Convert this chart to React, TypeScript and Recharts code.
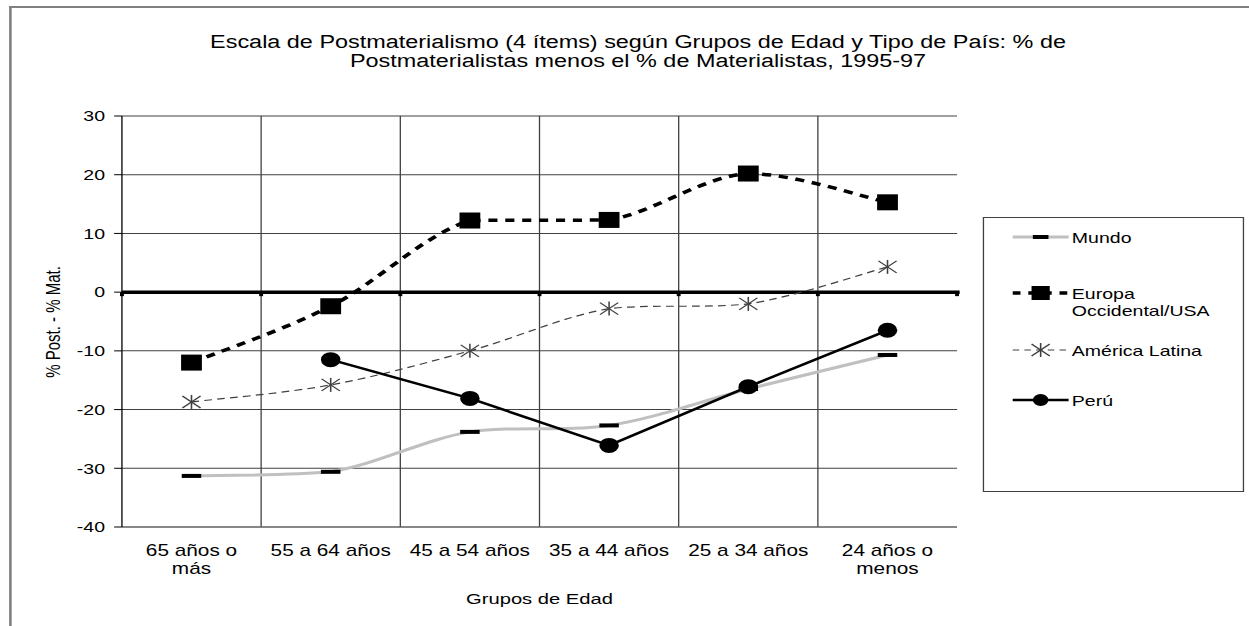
import React from "react";
import { LineChart, Line, XAxis, YAxis, CartesianGrid, ReferenceLine } from "recharts";

const categories = ["65 años o\nmás", "55 a 64 años", "45 a 54 años", "35 a 44 años", "25 a 34 años", "24 años o\nmenos"];
const mundo = [-31.3, -30.6, -23.8, -22.7, -16.5, -10.7];
const europa = [-12.0, -2.4, 12.2, 12.3, 20.2, 15.3];
const americaLatina = [-18.7, -15.8, -10.0, -2.8, -2.0, 4.3];
const peru: (number | null)[] = [null, -11.5, -18.1, -26.1, -16.1, -6.5];
const yTicks = [-40, -30, -20, -10, 0, 10, 20, 30];

const data = categories.map((c, i) => ({
  cat: c,
  mundo: mundo[i],
  europa: europa[i],
  america: americaLatina[i],
  peru: peru[i],
}));

const FONT = "'Liberation Sans', Arial, sans-serif";
const SX = 1.3;
const W = 961;
const H = 626;

const clamp = (v: number, a: number, b: number) => Math.max(Math.min(a, b), Math.min(Math.max(a, b), v));

// Excel-like smoothed line (Catmull-Rom Bezier, control points kept inside each segment's y range)
const smoothCurve = (context: any) => {
  let pts: number[][] = [];
  return {
    areaStart() {},
    areaEnd() {},
    lineStart() {
      pts = [];
    },
    point(x: number, y: number) {
      pts.push([+x, +y]);
    },
    lineEnd() {
      if (!pts.length) return;
      context.moveTo(pts[0][0], pts[0][1]);
      for (let i = 0; i < pts.length - 1; i++) {
        const p0 = pts[i - 1] || pts[i];
        const p1 = pts[i];
        const p2 = pts[i + 1];
        const p3 = pts[i + 2] || p2;
        const c1y = clamp(p1[1] + (p2[1] - p0[1]) / 6, p1[1], p2[1]);
        const c2y = clamp(p2[1] - (p3[1] - p1[1]) / 6, p1[1], p2[1]);
        context.bezierCurveTo(
          p1[0] + (p2[0] - p0[0]) / 6,
          c1y,
          p2[0] - (p3[0] - p1[0]) / 6,
          c2y,
          p2[0],
          p2[1]
        );
      }
    },
  };
};

const XTick = (props: any) => {
  const { x, y, payload } = props;
  const lines = String(payload.value).split("\n");
  return (
    <text x={x} y={y + 21} textAnchor="middle" fontSize={16} fill="#000" fontFamily={FONT}>
      {lines.map((l, i) => (
        <tspan key={i} x={x} dy={i === 0 ? 0 : 18.5}>
          {l}
        </tspan>
      ))}
    </text>
  );
};

const ZeroLine = (props: any) => {
  const { x1, y1, x2, y2 } = props;
  if (x1 == null) return null;
  const marks = [0, 1, 2, 3, 4, 5, 6].map((i) => x1 + (i * (x2 - x1)) / 6);
  return (
    <g>
      <line x1={x1} y1={y1} x2={x2 + 2} y2={y2} stroke="#000" strokeWidth={3.5} />
      {marks.map((mx, i) => (
        <rect key={i} x={mx - 1.5} y={y1} width={3} height={4} fill="#000" />
      ))}
    </g>
  );
};

const DashDot = (props: any) => {
  const { cx, cy } = props;
  if (cx == null || cy == null) return null;
  return <rect x={cx - 7.5} y={cy - 2} width={15} height={4} fill="#000" />;
};
const SquareDot = (props: any) => {
  const { cx, cy } = props;
  if (cx == null || cy == null) return null;
  return <rect x={cx - 8} y={cy - 8} width={16} height={16} fill="#000" />;
};
const StarDot = (props: any) => {
  const { cx, cy } = props;
  if (cx == null || cy == null) return null;
  return (
    <g stroke="#404040" strokeWidth={1.2}>
      <line x1={cx} y1={cy - 7} x2={cx} y2={cy + 7} />
      <line x1={cx - 7} y1={cy - 6} x2={cx + 7} y2={cy + 6} />
      <line x1={cx - 7} y1={cy + 6} x2={cx + 7} y2={cy - 6} />
    </g>
  );
};
const CircleDot = (props: any) => {
  const { cx, cy } = props;
  if (cx == null || cy == null) return null;
  return <circle cx={cx} cy={cy} r={7.5} fill="#000" />;
};

const LegendIcon = ({ kind }: { kind: string }) => {
  const w = 43;
  const h = 16;
  const c = w / 2;
  const m = h / 2;
  return (
    <svg width={w} height={h} style={{ display: "block", overflow: "visible" }}>
      {kind === "mundo" && (
        <g>
          <line x1={0} y1={m} x2={w} y2={m} stroke="#c0c0c0" strokeWidth={3} />
          <rect x={c - 6} y={m - 2} width={12} height={4} fill="#000" />
        </g>
      )}
      {kind === "europa" && (
        <g>
          <line x1={0} y1={m} x2={w} y2={m} stroke="#000" strokeWidth={3.5} strokeDasharray="6 6" />
          <rect x={c - 7} y={m - 7} width={14} height={14} fill="#000" />
        </g>
      )}
      {kind === "america" && (
        <g>
          <line x1={0} y1={m} x2={w} y2={m} stroke="#404040" strokeWidth={1.2} strokeDasharray="5 4" />
          <StarDot cx={c} cy={m} />
        </g>
      )}
      {kind === "peru" && (
        <g>
          <line x1={0} y1={m} x2={w} y2={m} stroke="#000" strokeWidth={2.5} />
          <circle cx={c} cy={m} r={6} fill="#000" />
        </g>
      )}
    </svg>
  );
};

const legendItems = [
  { kind: "mundo", label: "Mundo", top: 229 },
  { kind: "europa", label: "Europa\nOccidental/USA", top: 285 },
  { kind: "america", label: "América Latina", top: 342 },
  { kind: "peru", label: "Perú", top: 392 },
];

export default function App() {
  return (
    <div style={{ position: "absolute", left: 0, top: 0, width: 1249, height: H, overflow: "hidden", background: "#fff" }}>
      <div
        style={{
          position: "absolute",
          left: 0,
          top: 0,
          width: W,
          height: H,
          transform: `scaleX(${SX})`,
          transformOrigin: "0 0",
          fontFamily: FONT,
          color: "#000",
        }}
      >
        <div
          style={{
            position: "absolute",
            left: 7,
            top: 6,
            width: W,
            height: H,
            borderLeft: "2px solid #808080",
            borderTop: "2px solid #808080",
          }}
        />
        <div
          style={{
            position: "absolute",
            left: 490.8 - 400,
            width: 800,
            top: 33,
            textAlign: "center",
            fontSize: 18,
            lineHeight: "18.5px",
          }}
        >
          Escala de Postmaterialismo (4 ítems) según Grupos de Edad y Tipo de País: % de
          <br />
          Postmaterialistas menos el % de Materialistas, 1995-97
        </div>
        <div style={{ position: "absolute", left: 0, top: 0 }}>
          <LineChart width={W} height={H} data={data} margin={{ top: 116, right: 224.8, bottom: 69, left: 0 }}>
            <CartesianGrid
              stroke="#404040"
              strokeWidth={1}
              verticalCoordinatesGenerator={({ offset }: any) =>
                [1, 2, 3, 4, 5].map((i) => offset.left + (i * offset.width) / 6)
              }
            />
            <XAxis
              dataKey="cat"
              interval={0}
              height={30}
              tick={<XTick />}
              tickLine={false}
              axisLine={{ stroke: "#707070", strokeWidth: 1 }}
              padding={{ left: 53.5, right: 53.5 }}
            />
            <YAxis
              domain={[-40, 30]}
              ticks={yTicks}
              width={93.8}
              tickSize={6}
              tickMargin={7}
              tick={{ fontSize: 15, fill: "#000", fontFamily: FONT }}
              tickLine={{ stroke: "#000" }}
              axisLine={{ stroke: "#000" }}
              allowDataOverflow
            />
            <YAxis
              yAxisId="r"
              orientation="right"
              width={0}
              tick={false}
              tickLine={false}
              axisLine={{ stroke: "#a0a0a0", strokeWidth: 2 }}
            />
            <ReferenceLine y={0} shape={<ZeroLine />} />
            <Line
              type={smoothCurve as any}
              dataKey="mundo"
              stroke="#c0c0c0"
              strokeWidth={3}
              dot={<DashDot />}
              isAnimationActive={false}
            />
            <Line
              type={smoothCurve as any}
              dataKey="america"
              stroke="#404040"
              strokeWidth={1.2}
              strokeDasharray="6 4"
              dot={<StarDot />}
              isAnimationActive={false}
            />
            <Line
              type={smoothCurve as any}
              dataKey="europa"
              stroke="#000"
              strokeWidth={3.5}
              strokeDasharray="7 6"
              dot={<SquareDot />}
              isAnimationActive={false}
            />
            <Line
              type="linear"
              dataKey="peru"
              stroke="#000"
              strokeWidth={2.5}
              dot={<CircleDot />}
              isAnimationActive={false}
            />
          </LineChart>
        </div>
        <div
          style={{
            position: "absolute",
            left: 415 - 100,
            width: 200,
            top: 590,
            textAlign: "center",
            fontSize: 15.5,
            lineHeight: "18px",
          }}
        >
          Grupos de Edad
        </div>
        <div
          style={{
            position: "absolute",
            left: 41 - 100,
            top: 322 - 9,
            width: 200,
            height: 18,
            textAlign: "center",
            fontSize: 15,
            lineHeight: "18px",
            transform: "rotate(-90deg)",
            transformOrigin: "50% 50%",
            whiteSpace: "nowrap",
          }}
        >
          % Post. - % Mat.
        </div>
        <div
          style={{
            position: "absolute",
            left: 756,
            top: 217,
            width: 201,
            height: 275,
            boxSizing: "border-box",
            border: "1.5px solid #404040",
            background: "#fff",
          }}
        />
        {legendItems.map((it) => (
          <div key={it.kind} style={{ position: "absolute", left: 778.5, top: it.top, display: "flex", alignItems: "flex-start" }}>
            <LegendIcon kind={it.kind} />
            <div style={{ marginLeft: 3, fontSize: 15, lineHeight: "17px", whiteSpace: "pre" }}>{it.label}</div>
          </div>
        ))}
      </div>
    </div>
  );
}
